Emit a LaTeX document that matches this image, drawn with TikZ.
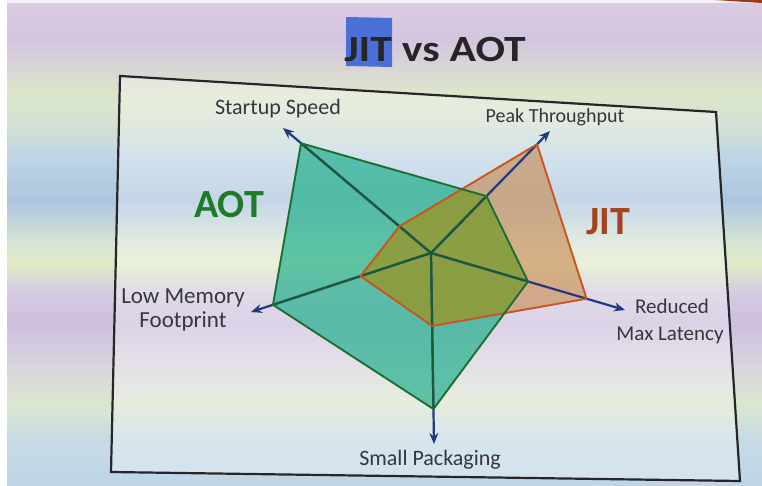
\documentclass[tikz,border=0pt]{standalone}
\usepackage{fontspec}
\setmainfont{Carlito}
\usetikzlibrary{arrows.meta,calc}

% screen background bands
\definecolor{bg0}{HTML}{D9CCE2}
\definecolor{bg1}{HTML}{D4C5DF}
\definecolor{bg2}{HTML}{DCE6CB}
\definecolor{bg3}{HTML}{D6E2D2}
\definecolor{bg4}{HTML}{BDD4E5}
\definecolor{bg5}{HTML}{ADC5DF}
\definecolor{bg6}{HTML}{D3E2D4}
\definecolor{bg7}{HTML}{E1EBC6}
\definecolor{bg8}{HTML}{D5CCE0}
\definecolor{bg9}{HTML}{CDBFDF}
\definecolor{bg10}{HTML}{DAD6DE}
\definecolor{bg11}{HTML}{DCE6CF}
\definecolor{bg12}{HTML}{C6DAE6}
\definecolor{bg13}{HTML}{BFD5E6}
% chart colours
\definecolor{axiscol}{HTML}{213A7E}
\definecolor{axisinner}{HTML}{1D5A3C}
\definecolor{aotfill}{HTML}{14AC86}
\definecolor{aotedge}{HTML}{1E6E32}
\definecolor{jitfill}{HTML}{C88A50}
\definecolor{jitedge}{HTML}{C8561E}
\definecolor{bothfill}{HTML}{8A9E40}
\definecolor{labelcol}{HTML}{36363E}
\definecolor{titlecol}{HTML}{26262A}
\definecolor{hilite}{HTML}{4A6FD6}
\definecolor{aottext}{HTML}{1F7A2A}
\definecolor{jittext}{HTML}{A4431C}
\definecolor{smudge}{HTML}{9A3A18}

\begin{document}
\begin{tikzpicture}[x=1pt,y=-1pt,
  axisline/.style={draw=axiscol,line width=2.2pt,-{Stealth[length=11pt,width=9pt]}},
  edge/.style={line width=1.9pt,line join=round},
  axislabel/.style={text=labelcol,font=\fontsize{22}{24}\selectfont,align=center,inner sep=0pt},
  serieslabel/.style={font=\bfseries\fontsize{40}{40}\selectfont,inner sep=0pt,anchor=base}
]
\useasboundingbox (0,0) rectangle (762,486);

% background bands of the projected screen
\foreach \ya/\yb/\ca/\cb in {0/40/bg0/bg1, 40/95/bg1/bg2, 95/120/bg2/bg3, 120/160/bg3/bg4,
  160/200/bg4/bg5, 200/240/bg5/bg6, 240/262/bg6/bg7, 262/292/bg7/bg8, 292/322/bg8/bg9,
  322/370/bg9/bg10, 370/402/bg10/bg11, 402/440/bg11/bg12, 440/486/bg12/bg13}
  \shade[top color=\ca,bottom color=\cb] (0,\ya) rectangle (762,\yb);
\fill[white] (0,0) rectangle (7,486);
\fill[white,opacity=0.7] (0,0) rectangle (762,3);
\fill[smudge] (715,0) -- (762,0) -- (762,3) -- cycle;

% slide frame
\coordinate (f1) at (120,76);
\coordinate (f2) at (716,112);
\coordinate (f3) at (740,481);
\coordinate (f4) at (111,472);
\fill[white,opacity=0.3] (f1) -- (f2) -- (f3) -- (f4) -- cycle;
\draw[titlecol,line width=2.2pt,line join=miter] (f1) -- (f2) -- (f3) -- (f4) -- cycle;

% title
\fill[hilite] (346,17) -- (392,18) -- (392,67) -- (346,66) -- cycle;
\node[text=titlecol,anchor=base,inner sep=0pt] (title) at (435,62)
  {\scalebox{1.18}[1]{\bfseries\fontsize{37}{37}\selectfont JIT vs AOT}};

% radar axes
\coordinate (O) at (431,253);
\coordinate (tS) at (283,128);
\coordinate (tP) at (550,131);
\coordinate (tL) at (625,310);
\coordinate (tK) at (434,444);
\coordinate (tM) at (251,312);

% JIT series
\coordinate (jS) at ($(O)!0.213!(tS)$);
\coordinate (jP) at ($(O)!0.891!(tP)$);
\coordinate (jL) at ($(O)!0.802!(tL)$);
\coordinate (jK) at ($(O)!0.382!(tK)$);
\coordinate (jM) at ($(O)!0.392!(tM)$);

% AOT series
\coordinate (aS) at ($(O)!0.878!(tS)$);
\coordinate (aP) at ($(O)!0.466!(tP)$);
\coordinate (aL) at ($(O)!0.500!(tL)$);
\coordinate (aK) at ($(O)!0.817!(tK)$);
\coordinate (aM) at ($(O)!0.878!(tM)$);

% area fills
\fill[aotfill,fill opacity=0.65] (aS) -- (aP) -- (aL) -- (aK) -- (aM) -- cycle;
\fill[jitfill,fill opacity=0.62] (jS) -- (jP) -- (jL) -- (jK) -- (jM) -- cycle;
\begin{scope}
  \clip (jS) -- (jP) -- (jL) -- (jK) -- (jM) -- cycle;
  \fill[bothfill,fill opacity=0.92] (aS) -- (aP) -- (aL) -- (aK) -- (aM) -- cycle;
\end{scope}

% axes, darker where they run through the filled areas
\foreach \t in {tS,tP,tL,tK,tM} \draw[axisline] (O) -- (\t);
\begin{scope}
  \clip (aS) -- (aP) -- (aL) -- (aK) -- (aM) -- cycle;
  \foreach \t in {tS,tP,tL,tK,tM} \draw[axisinner,line width=2.2pt] (O) -- (\t);
\end{scope}

% series outlines
\draw[edge,jitedge] (jS) -- (jP) -- (jL) -- (jK) -- (jM) -- cycle;
\draw[edge,aotedge] (aS) -- (aP) -- (aL) -- (aK) -- (aM) -- cycle;

% axis labels
\node[axislabel] (lS) at (278,109) {Startup Speed};
\node[axislabel,font=\fontsize{20}{22}\selectfont] (lP) at (555,117) {Peak Throughput};
\node[axislabel,font=\fontsize{23}{24}\selectfont] (lM) at (183,310) {Low Memory\\Footprint};
\node[axislabel,font=\fontsize{21}{27}\selectfont] (lL) at (670,321) {\hspace*{4pt}Reduced\\Max Latency};
\node[axislabel] (lK) at (430,460) {Small Packaging};

% series names
\node[serieslabel,text=aottext] (nA) at (229,218) {AOT};
\node[serieslabel,text=jittext] (nJ) at (608,235) {JIT};
\end{tikzpicture}
\end{document}
